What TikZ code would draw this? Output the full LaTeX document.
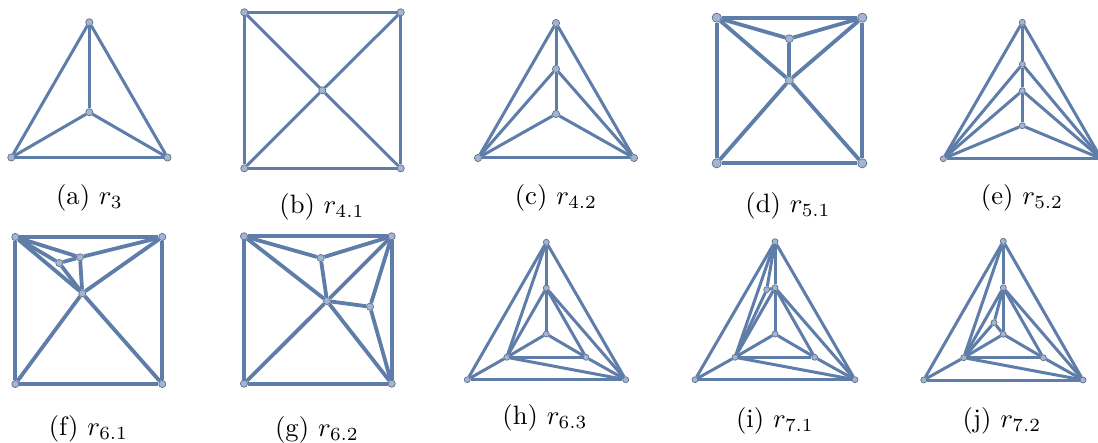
\documentclass[tikz,border=0pt]{standalone}
\usepackage{amsmath,amssymb}
\usetikzlibrary{backgrounds}
\definecolor{netblue}{HTML}{5F7DA9}
\definecolor{vertblue}{HTML}{A2B5D2}
\definecolor{vertline}{HTML}{5E6F88}

\begin{document}
\begin{tikzpicture}[
    x=0.5pt, y=-0.5pt,
    % --- Vertex styles ---
    vert/.style={draw=vertline, line width=0.35pt, circle, fill=vertblue, minimum size=3.6pt, inner sep=0pt},
    big vert/.style={vert, minimum size=4.6pt},
    small vert/.style={vert, minimum size=3pt},
    % --- Edge styles ---
    net edge/.style={line width=1.5pt, netblue},
    heavy edge/.style={line width=1.9pt, netblue},
    % --- Captions ---
    caption/.style={inner sep=0pt, scale=1.33},
]
\useasboundingbox (0,0) rectangle (1098,443);

% ============================================================
% Top row
% ============================================================

% --- r_3 ---
\node[vert] (Aa) at (89.3, 22.3) {};
\node[vert] (Ac) at (89.3, 112.3) {};
\node[vert] (Al) at (11.3, 157.5) {};
\node[vert] (Ar) at (167.5, 157.5) {};
\node[caption] (Acap) at (89.5, 198) {(a) $r_3$};
\begin{scope}[on background layer]
  \foreach \a/\b in {Aa/Al, Aa/Ar, Al/Ar, Aa/Ac, Ac/Al, Ac/Ar}
    \draw[net edge] (\a) -- (\b);
\end{scope}

% --- r_{4.1} ---
\node[vert] (Bp) at (244.3, 12.3) {};
\node[vert] (Bq) at (400.7, 12.3) {};
\node[vert] (Br) at (244.3, 168.3) {};
\node[vert] (Bs) at (400.7, 168.3) {};
\node[vert] (Bc) at (322.3, 90.3) {};
\node[caption] (Bcap) at (322, 207) {(b) $r_{4.1}$};
\begin{scope}[on background layer]
  \foreach \a/\b in {Bp/Bq, Bq/Bs, Bs/Br, Br/Bp, Bc/Bp, Bc/Bq, Bc/Br, Bc/Bs}
    \draw[net edge] (\a) -- (\b);
\end{scope}

% --- r_{4.2} ---
\node[vert] (Ca) at (556, 23) {};
\node[vert] (Cm) at (556, 69) {};
\node[vert] (Cc) at (556, 114) {};
\node[vert] (Cl) at (478, 158) {};
\node[vert] (Cr) at (634, 158) {};
\node[caption] (Ccap) at (556, 198) {(c) $r_{4.2}$};
\begin{scope}[on background layer]
  \foreach \a/\b in {Ca/Cl, Ca/Cr, Cl/Cr, Ca/Cm, Cm/Cc, Cm/Cl, Cm/Cr, Cc/Cl, Cc/Cr}
    \draw[net edge] (\a) -- (\b);
\end{scope}

% --- r_{5.1} ---
\node[big vert] (Dp) at (716.7, 17.7) {};
\node[big vert] (Dq) at (862.3, 17.7) {};
\node[big vert] (Dr) at (716.7, 163.3) {};
\node[big vert] (Ds) at (862.3, 163.3) {};
\node[vert, minimum size=4pt] (Du) at (789.3, 38.7) {};
\node[vert, minimum size=4pt] (Dc) at (789.3, 80.3) {};
\node[caption] (Dcap) at (788, 206) {(d) $r_{5.1}$};
\begin{scope}[on background layer]
  \foreach \a/\b in {Dp/Dq, Dq/Ds, Ds/Dr, Dr/Dp, Dp/Du, Dq/Du, Du/Dc, Dc/Dp, Dc/Dq, Dc/Dr, Dc/Ds}
    \draw[heavy edge] (\a) -- (\b);
\end{scope}

% --- r_{5.2} ---
\node[small vert] (Ea) at (1022.3, 22.3) {};
\node[small vert] (Em) at (1022.3, 64.3) {};
\node[small vert] (En) at (1022.3, 90.7) {};
\node[small vert] (Ec) at (1022.3, 125.7) {};
\node[small vert] (El) at (943.3, 158.7) {};
\node[small vert] (Er) at (1101.3, 158.7) {};
\node[caption] (Ecap) at (1022, 198) {(e) $r_{5.2}$};
\begin{scope}[on background layer]
  \foreach \a/\b in {Ea/El, Ea/Er, El/Er, Ea/Em, Em/En, En/Ec, Em/El, Em/Er, En/El, En/Er, Ec/El, Ec/Er}
    \draw[net edge] (\a) -- (\b);
\end{scope}

% ============================================================
% Bottom row
% ============================================================

% --- r_{6.1} ---
\node[vert] (Fp) at (15.3, 237) {};
\node[vert] (Fq) at (162.3, 237) {};
\node[vert] (Fr) at (15.3, 384) {};
\node[vert] (Fs) at (162.3, 384) {};
\node[vert] (Fu) at (80, 257.3) {};
\node[vert] (Fv) at (59.3, 263) {};
\node[vert] (Fc) at (82.3, 293.3) {};
\node[caption] (Fcap) at (88.5, 429) {(f) $r_{6.1}$};
\begin{scope}[on background layer]
  \foreach \a/\b in {Fp/Fq, Fq/Fs, Fs/Fr, Fr/Fp, Fp/Fu, Fq/Fu, Fu/Fc, Fu/Fv, Fp/Fv, Fv/Fc, Fc/Fp, Fc/Fq, Fc/Fr, Fc/Fs}
    \draw[heavy edge] (\a) -- (\b);
\end{scope}

% --- r_{6.2} ---
\node[vert] (Gp) at (244, 236.3) {};
\node[vert] (Gq) at (391.7, 236.3) {};
\node[vert] (Gr) at (244, 383.7) {};
\node[vert] (Gs) at (391.7, 383.7) {};
\node[vert] (Gu) at (320.7, 258) {};
\node[vert] (Gw) at (370, 306.7) {};
\node[vert] (Gc) at (327, 301) {};
\node[caption] (Gcap) at (317, 430) {(g) $r_{6.2}$};
\begin{scope}[on background layer]
  \foreach \a/\b in {Gp/Gq, Gq/Gs, Gs/Gr, Gr/Gp, Gp/Gu, Gq/Gu, Gu/Gc, Gc/Gw, Gw/Gq, Gw/Gs, Gc/Gp, Gc/Gq, Gc/Gr, Gc/Gs}
    \draw[heavy edge] (\a) -- (\b);
\end{scope}

% --- r_{6.3} ---
\node[small vert] (Ha) at (546.3, 242.3) {};
\node[small vert] (Hm) at (546.3, 288) {};
\node[small vert] (Hc) at (546.3, 334) {};
\node[small vert] (Hl) at (506.7, 357.3) {};
\node[small vert] (Hk) at (586, 357.3) {};
\node[small vert] (Hx) at (467.3, 379.7) {};
\node[small vert] (Hy) at (625.7, 379.7) {};
\node[caption] (Hcap) at (545, 418) {(h) $r_{6.3}$};
\begin{scope}[on background layer]
  \foreach \a/\b in {Ha/Hx, Ha/Hy, Hx/Hy, Ha/Hm, Hm/Hc, Ha/Hl, Hm/Hl, Hm/Hk, Hm/Hy, Hc/Hl, Hc/Hk, Hl/Hk, Hl/Hx, Hl/Hy, Hk/Hy}
    \draw[net edge] (\a) -- (\b);
\end{scope}

% --- r_{7.1} ---
\node[small vert] (Ia) at (775, 241.7) {};
\node[small vert] (Im) at (775, 287.7) {};
\node[small vert] (Ip) at (766.7, 289.7) {};
\node[small vert] (Ic) at (775, 334) {};
\node[small vert] (Il) at (735, 357.3) {};
\node[small vert] (Ik) at (814.7, 357.3) {};
\node[small vert] (Ix) at (695, 379.7) {};
\node[small vert] (Iy) at (855, 379.7) {};
\node[caption] (Icap) at (775, 421) {(i) $r_{7.1}$};
\begin{scope}[on background layer]
  \foreach \a/\b in {Ia/Ix, Ia/Iy, Ix/Iy, Ia/Im, Im/Ic, Ia/Il, Ia/Ip, Ip/Im, Ip/Il, Im/Il, Im/Ik, Im/Iy, Ic/Il, Ic/Ik, Il/Ik, Il/Ix, Il/Iy, Ik/Iy}
    \draw[net edge] (\a) -- (\b);
\end{scope}

% --- r_{7.2} ---
\node[small vert] (Ja) at (1003.3, 241.3) {};
\node[small vert] (Jm) at (1003.3, 287.7) {};
\node[small vert] (Jp) at (994, 322.7) {};
\node[small vert] (Jc) at (1003.3, 334.3) {};
\node[small vert] (Jl) at (963.7, 357.7) {};
\node[small vert] (Jk) at (1043.3, 357.7) {};
\node[small vert] (Jx) at (923.7, 380) {};
\node[small vert] (Jy) at (1083, 380) {};
\node[caption] (Jcap) at (1002, 421) {(j) $r_{7.2}$};
\begin{scope}[on background layer]
  \foreach \a/\b in {Ja/Jx, Ja/Jy, Jx/Jy, Ja/Jm, Jm/Jc, Ja/Jl, Jm/Jl, Jm/Jk, Jm/Jy, Jc/Jl, Jc/Jk, Jl/Jk, Jl/Jx, Jl/Jy, Jk/Jy, Jp/Jm, Jp/Jl, Jp/Jc}
    \draw[net edge] (\a) -- (\b);
\end{scope}

\end{tikzpicture}
\end{document}
